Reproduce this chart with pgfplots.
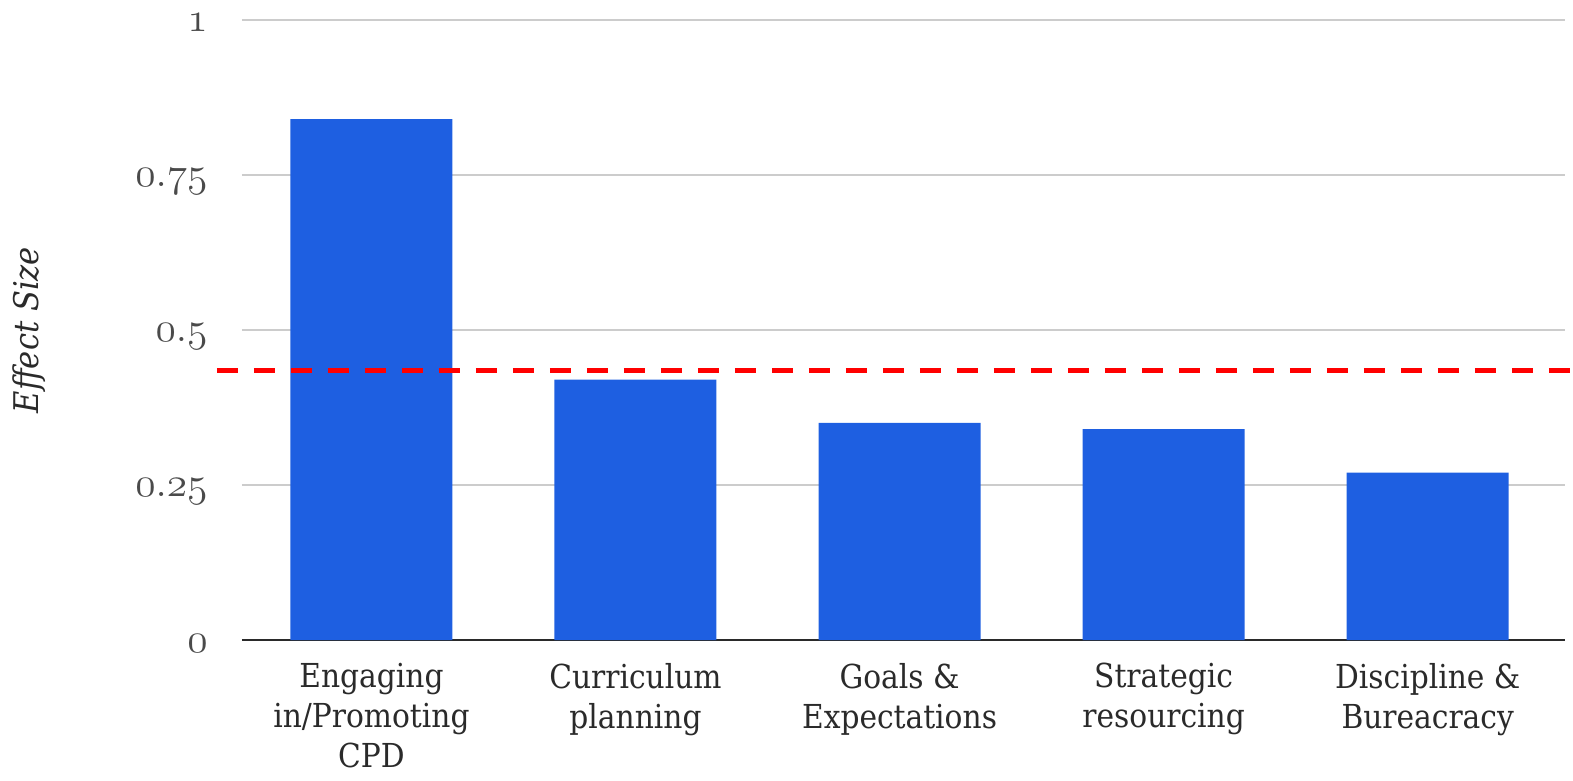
\documentclass[border=0pt]{standalone}
\usepackage{pgfplots}
\pgfplotsset{compat=1.18}
\usepackage{fontspec}
\setmainfont{DejaVu Serif Condensed}
\definecolor{barblue}{HTML}{1E5FE1}
\definecolor{labgray}{HTML}{2A2A2A}
\definecolor{tickgray}{HTML}{4A4A4A}
\begin{document}
\begin{tikzpicture}
\begin{axis}[name=ax, scale only axis, width=661.5pt, height=310pt,
  xmin=-0.49, xmax=4.52, ymin=0, ymax=1,
  axis x line*=bottom, axis y line*=left,
  x axis line style={draw=labgray, line width=1pt, -},
  y axis line style={draw=none},
  tick style={draw=none}, major tick length=0pt,
  ymajorgrids, major grid style={draw=black!20, line width=1pt},
  ytick={0,0.25,0.5,0.75,1},
  yticklabels={$\mathnormal{0}$,$\mathnormal{0}.\mathnormal{25}$,$\mathnormal{0}.\mathnormal{5}$,$\mathnormal{0}.\mathnormal{75}$,$\mathnormal{1}$},
  yticklabel style={anchor=base east, inner sep=0pt, xshift=-17pt, yshift=-6pt, font=\fontsize{20}{24}\selectfont, text=tickgray},
  xtick={0,1,2,3,4},
  xticklabels={{Engaging\\in/Promoting\\CPD},{Curriculum\\planning},{Goals \&\\Expectations},{Strategic\\resourcing},{Discipline \&\\Bureacracy}},
  xticklabel style={anchor=north, inner sep=0pt, yshift=-11.5pt, align=center, font=\fontsize{16.5}{20}\selectfont, text=labgray},
  ylabel={Effect Size},
  ylabel style={at={(axis description cs:-0.161,0.5)}, anchor=center, font=\itshape\fontsize{17}{20}\selectfont, text=labgray},
  clip=false,
]
\addplot[ybar, fill=barblue, draw=none, bar width=81pt] coordinates {(0,0.84) (1,0.42) (2,0.35) (3,0.34) (4,0.27)};
\addplot[red, line width=2.5pt, dash pattern=on 10.5pt off 8pt] coordinates {(-0.585,0.434) (4.549,0.434)};
\end{axis}
\pgfresetboundingbox
\path ([shift={(-121pt,-70.5pt)}]ax.south west) rectangle ([shift={(4pt,10pt)}]ax.north east);
\end{tikzpicture}
\end{document}
